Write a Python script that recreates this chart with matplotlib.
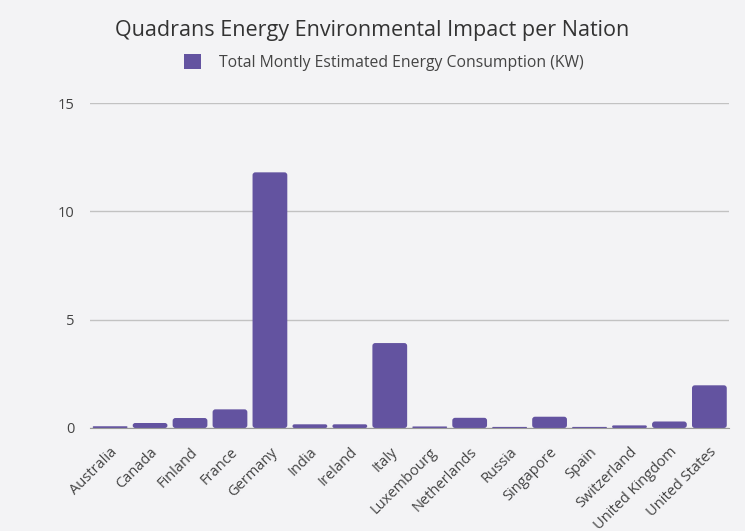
import matplotlib
matplotlib.use("Agg")
import matplotlib.pyplot as plt
from matplotlib.patches import FancyBboxPatch, Patch

countries = ["Australia", "Canada", "Finland", "France", "Germany", "India",
             "Ireland", "Italy", "Luxembourg", "Netherlands", "Russia",
             "Singapore", "Spain", "Switzerland", "United Kingdom", "United States"]
consumption = [0.08, 0.23, 0.46, 0.86, 11.8, 0.17, 0.17, 3.92, 0.07, 0.47,
               0.05, 0.52, 0.05, 0.12, 0.30, 1.97]
y_ticks = [0, 5, 10, 15]

BG = "#f3f3f5"
BAR = "#6353a0"

plt.rcParams['font.family'] = ['Open Sans', 'DejaVu Sans']

fig = plt.figure(figsize=(7.45, 5.31), dpi=100, facecolor=BG)
ax = fig.add_axes([0.121, 0.194, 0.858, 0.612], facecolor=BG)

bars = ax.bar(range(len(countries)), consumption, width=0.87, color=BAR, zorder=3)

ax.set_xlim(-0.5, len(countries) - 0.5)
ax.set_ylim(0, 15)

# swap the plain rectangles for slightly rounded ones
aspect = 40 / 21.67
for rect in bars.patches:
    x, y = rect.get_x(), rect.get_y()
    w, h = rect.get_width(), rect.get_height()
    r = min(0.07, h / (2 * aspect))
    rect.remove()
    ax.add_patch(FancyBboxPatch((x, y), w, h,
                                boxstyle="round,pad=0,rounding_size=%f" % r,
                                mutation_aspect=aspect, facecolor=BAR,
                                edgecolor="none", zorder=3))

ax.set_yticks(y_ticks)
ax.set_yticklabels([str(t) for t in y_ticks], fontsize=10.5, color="#444444")
ax.set_xticks(range(len(countries)))
ax.set_xticklabels(countries, rotation=45, ha="right", rotation_mode="anchor",
                   fontsize=10.5, color="#444444")
ax.tick_params(axis="y", length=0, pad=11)
ax.tick_params(axis="x", length=0, pad=12)

ax.grid(axis="y", color="#c2c2c2", linewidth=1, zorder=0)
for s in ["top", "right", "left"]:
    ax.spines[s].set_visible(False)
ax.spines["bottom"].set_color("#999999")
ax.spines["bottom"].set_zorder(4)

fig.text(0.5, 0.942, "Quadrans Energy Environmental Impact per Nation",
         ha="center", va="center", fontsize=15.5, color="#333333")
legend_handle = Patch(facecolor=BAR, edgecolor="none",
                      label="Total Montly Estimated Energy Consumption (KW)")
fig.legend(handles=[legend_handle], loc="center", bbox_to_anchor=(0.515, 0.882),
           frameon=False, fontsize=11.3, handlelength=1.1, handleheight=1.1,
           handletextpad=1.1, labelcolor="#444444")

fig.savefig("out.png", dpi=100, facecolor=BG)
